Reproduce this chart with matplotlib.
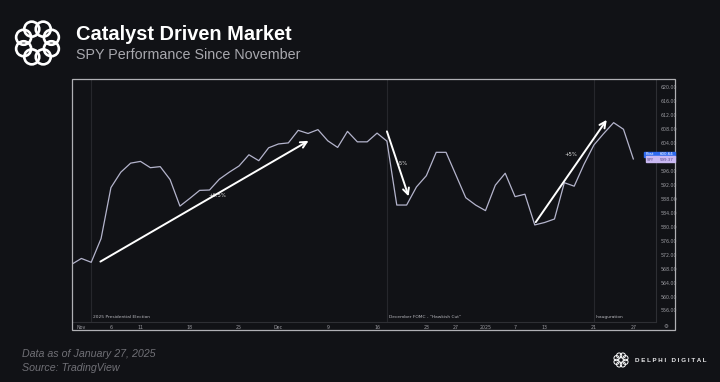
import numpy as np
import matplotlib
matplotlib.use("Agg")
import matplotlib.pyplot as plt
from matplotlib.patches import Rectangle, Circle
from matplotlib.transforms import blended_transform_factory

# SPY daily closes, Oct 31 2024 - Jan 27 2025 (trading days only)
dates = ["2024-10-31", "2024-11-01",
         "2024-11-04", "2024-11-05", "2024-11-06", "2024-11-07", "2024-11-08",
         "2024-11-11", "2024-11-12", "2024-11-13", "2024-11-14", "2024-11-15",
         "2024-11-18", "2024-11-19", "2024-11-20", "2024-11-21", "2024-11-22",
         "2024-11-25", "2024-11-26", "2024-11-27", "2024-11-29",
         "2024-12-02", "2024-12-03", "2024-12-04", "2024-12-05", "2024-12-06",
         "2024-12-09", "2024-12-10", "2024-12-11", "2024-12-12", "2024-12-13",
         "2024-12-16", "2024-12-17", "2024-12-18", "2024-12-19", "2024-12-20",
         "2024-12-23", "2024-12-24", "2024-12-26", "2024-12-27",
         "2024-12-30", "2024-12-31", "2025-01-02", "2025-01-03",
         "2025-01-06", "2025-01-07", "2025-01-08", "2025-01-10",
         "2025-01-13", "2025-01-14", "2025-01-15", "2025-01-16", "2025-01-17",
         "2025-01-21", "2025-01-22", "2025-01-23", "2025-01-24",
         "2025-01-27"]
spy_close = [569.2, 570.9,
             569.8, 576.6, 591.2, 595.6, 598.2,
             598.7, 596.9, 597.2, 593.5, 585.9,
             588.1, 590.4, 590.5, 593.6, 595.6,
             597.4, 600.6, 598.9, 602.6,
             603.7, 604.0, 607.6, 606.7, 607.8,
             604.6, 602.7, 607.3, 604.3, 604.3,
             606.8, 604.5, 586.2, 586.2, 591.4,
             594.6, 601.3, 601.3, 594.8,
             588.3, 586.2, 584.6, 591.9,
             595.3, 588.6, 589.3, 580.5,
             581.2, 582.2, 592.6, 591.6, 597.9,
             603.4, 606.7, 609.8, 607.9,
             599.4]

tick_dates = ["2024-11-01", "2024-11-06", "2024-11-11", "2024-11-18", "2024-11-25",
              "2024-12-02", "2024-12-09", "2024-12-16", "2024-12-23", "2024-12-27",
              "2025-01-02", "2025-01-07", "2025-01-13", "2025-01-21", "2025-01-27"]
tick_labels = ["Nov", "6", "11", "18", "25", "Dec", "9", "16", "23", "27",
               "2025", "7", "13", "21", "27"]

event_dates = ["2024-11-04", "2024-12-17", "2025-01-21"]
event_labels = ["2025 Presidential Election", 'December FOMC - "Hawkish Cut"', "Inauguration"]

post_price = 600.64
last_price = 599.37

BG = "#111216"
W, H = 720, 382

x = np.arange(len(dates))

fig = plt.figure(figsize=(7.2, 3.82), dpi=100, facecolor=BG)


def fx(px):
    return px / W


def fy(py):
    return 1 - py / H


ax = fig.add_axes([fx(72), fy(322), fx(656) - fx(72), fy(79) - fy(322)])
ax.set_facecolor(BG)
ax.plot(x, spy_close, color="#b4b4cc", lw=0.9, zorder=3)
ax.set_xlim(0.05, 59.3)
ax.set_ylim(552.7, 622.3)

# the 600 label sits under the price tags, so leave it blank
yt = np.arange(556, 621, 4)
ax.yaxis.tick_right()
ax.set_yticks(yt)
ax.set_yticklabels(["" if v == 600 else "%.2f" % v for v in yt])
ax.set_xticks([dates.index(d) for d in tick_dates])
ax.set_xticklabels(tick_labels)
ax.tick_params(length=0, labelsize=3.4, colors="#9a9aa0")
ax.tick_params(axis="y", pad=3.5)
ax.tick_params(axis="x", pad=2.2)

for s in ["top", "left"]:
    ax.spines[s].set_visible(False)
for s in ["right", "bottom"]:
    ax.spines[s].set_color("#2e2f34")
    ax.spines[s].set_linewidth(0.8)

# event markers
evt_tr = blended_transform_factory(ax.transData, ax.transAxes)
for d, lab in zip(event_dates, event_labels):
    xi = dates.index(d)
    ax.axvline(xi, color="#26272c", lw=0.8, zorder=1)
    ax.text(xi + 0.2, 0.014, lab, transform=evt_tr,
            fontsize=3.2, color="#b8b8be", va="bottom", ha="left")

# move annotations
arrow_kw = dict(arrowstyle="->", color="white", lw=1.4, mutation_scale=11, shrinkA=0, shrinkB=0)
ax.annotate("", xy=(24.05, 604.6), xytext=(2.93, 570.0), arrowprops=arrow_kw, zorder=4)
ax.annotate("", xy=(34.2, 588.7), xytext=(32.0, 607.3), arrowprops=arrow_kw, zorder=4)
ax.annotate("", xy=(54.3, 610.6), xytext=(47.1, 581.3), arrowprops=arrow_kw, zorder=4)
ax.text(14.8, 588.9, "+6.5%", color="#e0e0e0", fontsize=3.8, ha="center", va="center")
ax.text(33.6, 598.0, "-5%", color="#e0e0e0", fontsize=3.8, ha="center", va="center")
ax.text(50.7, 600.6, "+5%", color="#e0e0e0", fontsize=3.8, ha="center", va="center")

# price tags
tr = blended_transform_factory(fig.transFigure, ax.transData)
fig.patches.append(Rectangle((fx(644), post_price - 0.68), fx(675) - fx(644), 1.36,
                             transform=tr, color="#2f6bf0", zorder=5))
fig.patches.append(Rectangle((fx(645.5), last_price - 0.78), fx(675) - fx(645.5), 1.56,
                             transform=tr, color="#c9b8f2", zorder=5))
fig.text(fx(645.5), post_price + 0.1, "Post", transform=tr, fontsize=2.9, color="white",
         va="center", ha="left", zorder=6)
fig.text(fx(674), post_price + 0.1, "600.64", transform=tr, fontsize=2.9, color="white",
         va="center", ha="right", zorder=6)
fig.text(fx(647), last_price - 0.15, "SPY", transform=tr, fontsize=2.9, color="#5a4a8a",
         va="center", ha="left", zorder=6)
fig.text(fx(674), last_price - 0.15, "599.37", transform=tr, fontsize=2.9, color="#5a4a8a",
         va="center", ha="right", zorder=6)

# outer chart frame and settings icon
fig.patches.append(Rectangle((fx(72), fy(330)), fx(675) - fx(72), fy(79) - fy(330),
                             transform=fig.transFigure, fill=False, ec="#b0b0b4", lw=0.9))
fig.text(fx(666), fy(326.3), "\u2699", fontsize=4, color="#9a9aa0", ha="center", va="center")


def draw_logo(cx, cy, R, r, lw):
    lax = fig.add_axes([0, 0, 1, 1], facecolor="none")
    lax.set_xlim(0, W)
    lax.set_ylim(H, 0)
    lax.axis("off")
    for k in range(8):
        a = 2 * np.pi * k / 8 + np.pi / 8
        lax.add_patch(Circle((cx + R * np.cos(a), cy + R * np.sin(a)), r,
                             fill=False, ec="white", lw=lw))
    return lax


draw_logo(37.5, 43, 15, 7.5, 1.9)
draw_logo(621, 360, 4.8, 2.6, 0.7)

# titles and footer
fig.text(fx(76), fy(34), "Catalyst Driven Market", fontsize=14.4, fontweight="bold",
         color="white", family="Liberation Sans", va="center", ha="left")
fig.text(fx(76), fy(55), "SPY Performance Since November", fontsize=10.3,
         color="#a8a8ae", family="Liberation Sans", va="center", ha="left")
fig.text(fx(22), fy(354), "Data as of January 27, 2025", fontsize=7.7, style="italic",
         color="#707076", family="Liberation Sans", va="center", ha="left")
fig.text(fx(22), fy(368), "Source: TradingView", fontsize=7.7, style="italic",
         color="#707076", family="Liberation Sans", va="center", ha="left")
fig.text(fx(635), fy(360), "D E L P H I   D I G I T A L", fontsize=4.5, fontweight="bold",
         color="#e8e8ea", family="Liberation Sans", va="center", ha="left")

fig.savefig("out.png", dpi=100, facecolor=BG)
